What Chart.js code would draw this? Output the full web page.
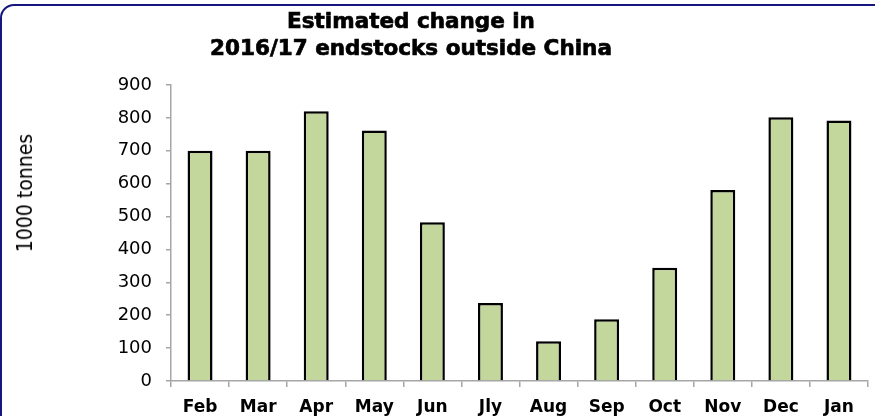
<!DOCTYPE html>
<html>
<head>
<meta charset="utf-8">
<script src="https://cdn.jsdelivr.net/npm/chart.js@4.4.1/dist/chart.umd.min.js"></script>
<style>
  html, body { margin: 0; padding: 0; background: #fff; overflow: hidden; }
  #wrap { position: relative; width: 875px; height: 416px; }
  #frame {
    position: absolute; left: 0; top: 4px; width: 900px; height: 440px;
    border: 2.5px solid #16167e; border-radius: 14px; box-sizing: border-box;
  }
  #title {
    position: absolute; left: 161px; width: 500px; top: 7px;
    text-align: center; font-family: "DejaVu Sans", sans-serif; font-weight: bold;
    font-size: 21.5px; line-height: 27px; color: #000;
    -webkit-text-stroke: 0.7px #000;
  }
  #ytitle {
    position: absolute; left: 25px; top: 193px; white-space: nowrap;
    transform: translate(-50%, -50%) rotate(-90deg);
    font-family: "Liberation Sans Narrow", "DejaVu Sans Condensed", sans-serif;
    font-size: 21px; color: #000;
  }
  canvas { position: absolute; left: 0; top: 0; }
</style>
</head>
<body>
<div id="wrap">
  <div id="frame"></div>
  <canvas id="chart" width="875" height="416"></canvas>
  <div id="title">Estimated change in<br>2016/17 endstocks outside China</div>
  <div id="ytitle">1000 tonnes</div>
</div>
<script>
// months of the 2016/17 season
const months = ['Feb', 'Mar', 'Apr', 'May', 'Jun', 'Jly', 'Aug', 'Sep', 'Oct', 'Nov', 'Dec', 'Jan'];
// estimated change, 1000 tonnes
const changes = [700, 700, 820, 762, 483, 237, 121, 188, 344, 581, 802, 792];
const yMin = 0;
const yMax = 900;
const yStep = 100;

const axisGrey = '#a6a6a6';
const labelFont = { family: 'DejaVu Sans', size: 17 };

new Chart(document.getElementById('chart'), {
    type: 'bar',
    data: {
        labels: months,
        datasets: [{
            label: 'Endstocks change',
            data: changes,
            backgroundColor: '#c3d69b',
            borderColor: '#000',
            borderWidth: 2.5,
            categoryPercentage: 1,
            barPercentage: 0.43
        }]
    },
    options: {
        responsive: false,
        animation: false,
        layout: { padding: { top: 85, right: 7, left: 0, bottom: 0 } },
        plugins: {
            legend: { display: false },
            tooltip: { enabled: false }
        },
        scales: {
            x: {
                grid: { offset: true, drawOnChartArea: false, tickLength: 6, color: axisGrey, lineWidth: 1.5 },
                border: { color: axisGrey, width: 1.5 },
                ticks: { color: '#000', font: { ...labelFont, weight: 'bold' }, padding: 10, maxRotation: 0 },
                afterFit: s => { s.height = 35; }
            },
            y: {
                min: yMin,
                max: yMax,
                grid: { drawOnChartArea: false, tickLength: 5, color: axisGrey, lineWidth: 1.5 },
                border: { color: axisGrey, width: 1.5 },
                ticks: { stepSize: yStep, color: '#000', font: { ...labelFont, size: 18 }, padding: 14 },
                afterFit: s => { s.width = 171; }
            }
        }
    }
});
</script>
</body>
</html>
